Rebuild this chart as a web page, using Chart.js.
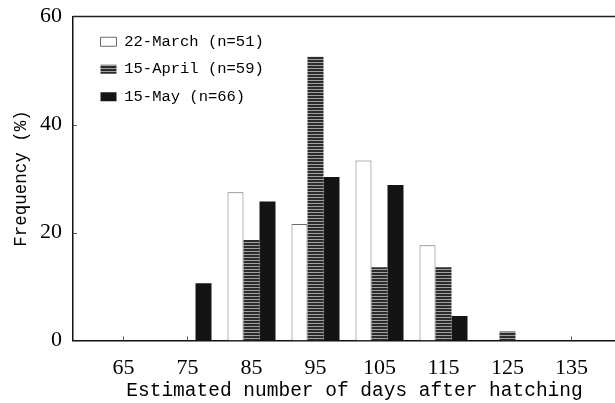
<!DOCTYPE html>
<html><head><meta charset="utf-8">
<script src="https://cdn.jsdelivr.net/npm/chart.js@4/dist/chart.umd.min.js"></script>
<style>html,body{margin:0;padding:0;background:#fff;overflow:hidden;width:615px;height:403px}</style>
</head><body>
<canvas id="c" width="640" height="403" style="width:640px;height:403px;display:block"></canvas>
<script>
const categories = [65, 75, 85, 95, 105, 115, 125, 135];
const xTickLabels = ['65', '75', '85', '95', '105', '115', '125', '135'];
const yTickValues = [0, 20, 40, 60];
const seriesLabels = ['22-March (n=51)', '15-April (n=59)', '15-May (n=66)'];
const march = [0, 0, 27.45, 21.57, 33.33, 17.65, 0, 0];
const april = [0, 0, 18.64, 52.54, 13.56, 13.56, 1.69, 0];
const may = [0, 10.61, 25.76, 30.30, 28.79, 4.55, 0, 0];
const xAxisTitle = 'Estimated number of days after hatching';
const yAxisTitle = 'Frequency (%)';

function stripePattern() {
  const c = document.createElement('canvas');
  c.width = 4; c.height = 3;
  const g = c.getContext('2d');
  g.fillStyle = '#2c2c2c'; g.fillRect(0, 0, 4, 3);
  g.fillStyle = '#a0a0a0'; g.fillRect(0, 2, 4, 1);
  return g.createPattern(c, 'repeat');
}
const toPoints = arr => categories.map((x, i) => ({x: x, y: arr[i]}));

const frameAndTicks = {
  id: 'frameAndTicks',
  beforeDatasetsDraw(chart) {
    const {ctx, chartArea: a} = chart;
    const xs = chart.scales.x, ys = chart.scales.y;
    ctx.save();
    ctx.strokeStyle = '#555';
    ctx.lineWidth = 1;
    ctx.beginPath();
    xs.ticks.forEach(t => {
      const px = Math.round(xs.getPixelForValue(t.value)) + 0.5;
      ctx.moveTo(px, a.bottom); ctx.lineTo(px, a.bottom - 4);
    });
    ys.ticks.forEach(t => {
      if (t.value === ys.min || t.value === ys.max) return;
      const py = Math.round(ys.getPixelForValue(t.value)) + 0.5;
      ctx.moveTo(a.left, py); ctx.lineTo(a.left + 4, py);
    });
    ctx.stroke();
    ctx.strokeStyle = '#222';
    ctx.lineWidth = 1.5;
    ctx.beginPath();
    ctx.moveTo(a.left, a.top); ctx.lineTo(a.right, a.top);
    ctx.stroke();
    ctx.restore();
  }
};
const legendPlace = {
  id: 'legendPlace',
  afterLayout(chart) {
    const l = chart.legend; if (!l) return;
    const a = chart.chartArea;
    const w = l.width;
    l.left = a.left + 15.5; l.right = l.left + w;
    l.top = a.top + 5.5; l.bottom = l.top + 300;
  }
};

new Chart(document.getElementById('c'), {
  type: 'bar',
  data: {
    datasets: [
      {label: seriesLabels[0], data: toPoints(march), backgroundColor: '#ffffff', borderColor: '#6a6a6a', borderWidth: 1, xAxisID: 'x', yAxisID: 'y'},
      {label: seriesLabels[1], data: toPoints(april), backgroundColor: stripePattern(), borderColor: '#3a3a3a', borderWidth: 0, xAxisID: 'x', yAxisID: 'y'},
      {label: seriesLabels[2], data: toPoints(may), backgroundColor: '#141414', borderColor: '#141414', borderWidth: 0, xAxisID: 'x', yAxisID: 'y'}
    ]
  },
  options: {
    responsive: false,
    animation: false,
    datasets: {bar: {categoryPercentage: 0.75, barPercentage: 1.0}},
    layout: {padding: {left: 10, right: 4, top: 16.5, bottom: 0}},
    scales: {
      x: {
        type: 'linear', position: 'bottom', offset: false,
        min: 57.11, max: 145.08,
        afterBuildTicks: s => { s.ticks = categories.map(v => ({value: v})); },
        ticks: {callback: (v, i) => xTickLabels[i], autoSkip: false, maxRotation: 0, color: '#000', padding: 16.5,
                font: {family: 'Liberation Serif', size: 22, lineHeight: 1.0}},
        grid: {display: false, drawTicks: false},
        border: {display: true, color: '#111', width: 1.5},
        title: {display: true, text: xAxisTitle, color: '#000', padding: {top: -16, bottom: 0},
                font: {family: 'Liberation Mono', size: 19.5}}
      },
      y: {
        min: 0, max: 60,
        afterBuildTicks: s => { s.ticks = yTickValues.map(v => ({value: v})); },
        ticks: {color: '#000', padding: 11, font: {family: 'Liberation Serif', size: 22, lineHeight: 0.5}},
        grid: {display: false, drawTicks: false},
        border: {display: true, color: '#111', width: 1.5},
        title: {display: true, text: yAxisTitle, color: '#000', padding: {top: 1, bottom: -3},
                font: {family: 'Liberation Mono', size: 17.5}}
      }
    },
    plugins: {
      legend: {
        position: 'chartArea', align: 'start',
        labels: {boxWidth: 16, boxHeight: 9, padding: 12, color: '#000',
                 font: {family: 'Liberation Mono', size: 15.5}}
      },
      tooltip: {enabled: false}
    }
  },
  plugins: [frameAndTicks, legendPlace]
});
</script>
</body></html>
